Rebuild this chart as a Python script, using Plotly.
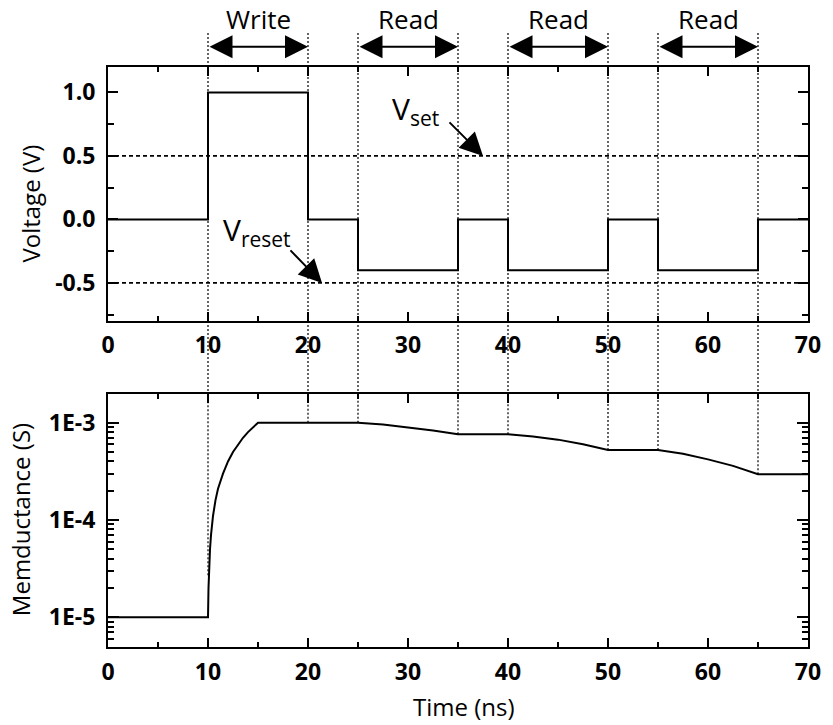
import plotly.graph_objects as go

# Applied voltage: each value holds until the next time point
time_ns = [0, 10, 20, 25, 35, 40, 50, 55, 65, 70]
voltage_v = [0.0, 1.0, 0.0, -0.4, 0.0, -0.4, 0.0, -0.4, 0.0, 0.0]

# Switching thresholds
v_set = 0.5
v_reset = -0.5

# Memductance response to the pulse train
g_time_ns = [0, 10, 10.05, 10.1, 10.2, 10.3, 10.5, 10.75, 11, 11.5, 12, 12.5,
             13, 13.5, 14, 14.5, 15, 20, 25, 27.5, 30, 32.5, 35, 40, 42.5, 45,
             47.5, 50, 55, 57.5, 60, 62.5, 65, 70]
g_siemens = [1e-5, 1e-5, 2e-5, 3e-5, 5e-5, 7e-5, 1.1e-4, 1.6e-4, 2.1e-4, 3.0e-4,
             4.0e-4, 5.0e-4, 6.0e-4, 7.0e-4, 8.0e-4, 9.0e-4, 1.0e-3, 1.0e-3,
             1.0e-3, 9.6e-4, 9.0e-4, 8.3e-4, 7.6e-4, 7.6e-4, 7.2e-4, 6.7e-4,
             6.0e-4, 5.25e-4, 5.25e-4, 4.8e-4, 4.2e-4, 3.6e-4, 2.95e-4, 2.95e-4]

# Pulse phases
phase_labels = ["Write", "Read", "Read", "Read"]
phase_start = [10, 25, 40, 55]
phase_end = [20, 35, 50, 65]

# Phase boundaries and the memductance where each boundary marker stops
edge_time = sorted(phase_start + phase_end)
edge_g = [2.7e-5, 1e-3, 1e-3, 7.6e-4, 7.6e-4, 5.25e-4, 5.25e-4, 2.95e-4]

# Tick labels
x_tickvals = [0, 10, 20, 30, 40, 50, 60, 70]
v_tickvals = [-0.5, 0.0, 0.5, 1.0]
v_ticktext = ["-0.5", "0.0", "0.5", "1.0"]
g_tickvals = [1e-5, 1e-4, 1e-3]
g_ticktext = ["1E-5", "1E-4", "1E-3"]

FONT = "Open Sans"
BLACK = "#000000"

TOP_DOMAIN = [0.5621, 1.0]
BOTTOM_DOMAIN = [0.0, 0.4362]

fig = go.Figure()

# Voltage waveform
fig.add_trace(go.Scatter(
    x=time_ns, y=voltage_v, mode="lines", line_shape="hv",
    line=dict(color=BLACK, width=2), xaxis="x", yaxis="y", showlegend=False,
))

# Threshold lines
for level in (v_set, v_reset):
    fig.add_trace(go.Scatter(
        x=[time_ns[0], time_ns[-1]], y=[level, level], mode="lines",
        line=dict(color=BLACK, width=1.8, dash="4px,3px"),
        xaxis="x", yaxis="y", showlegend=False,
    ))

# Boundary markers inside the memductance panel
bx, by = [], []
for t, g in zip(edge_time, edge_g):
    bx += [t, t, None]
    by += [g, 1e-2, None]
fig.add_trace(go.Scatter(
    x=bx, y=by, mode="lines",
    line=dict(color=BLACK, width=1.2, dash="2px,2px"),
    xaxis="x2", yaxis="y2", showlegend=False,
))

# Memductance curve
fig.add_trace(go.Scatter(
    x=g_time_ns, y=g_siemens, mode="lines",
    line=dict(color=BLACK, width=2), xaxis="x2", yaxis="y2", showlegend=False,
))

# Boundary markers from the phase arrows down to the memductance panel
shapes = []
for t in edge_time:
    shapes.append(dict(
        type="line", xref="x", yref="paper", x0=t, x1=t,
        y0=1.0586, y1=BOTTOM_DOMAIN[1], layer="above",
        line=dict(color=BLACK, width=1.2, dash="2px,2px"),
    ))

ARROW = dict(arrowhead=2, arrowsize=2.3, arrowwidth=2, arrowcolor=BLACK, standoff=0)

annotations = []
# Phase arrows and labels
for lab, s, e in zip(phase_labels, phase_start, phase_end):
    annotations.append(dict(
        x=e, y=1.035, xref="x", yref="paper", ax=s, ay=0, axref="x", ayref="pixel",
        text="", showarrow=True, startarrowhead=2, arrowside="end+start",
        startarrowsize=2.3, startstandoff=0, **ARROW,
    ))
    annotations.append(dict(
        x=(s + e) / 2, y=1.082, xref="x", yref="paper", text=lab, showarrow=False,
        xanchor="center", yanchor="middle", font=dict(family=FONT, size=26, color=BLACK),
    ))

# Threshold labels with pointers
annotations += [
    dict(x=28.2, y=0.86, xref="x", yref="y", text="V<sub>set</sub>", showarrow=False,
         xanchor="left", yanchor="middle", font=dict(family=FONT, size=30, color=BLACK)),
    dict(x=37.5, y=v_set, xref="x", yref="y", ax=-35, ay=-35, text="", showarrow=True,
         **ARROW),
    dict(x=11.3, y=-0.09, xref="x", yref="y", text="V<sub>reset</sub>", showarrow=False,
         xanchor="left", yanchor="middle", font=dict(family=FONT, size=30, color=BLACK)),
    dict(x=21.4, y=v_reset, xref="x", yref="y", ax=-33, ay=-34, text="", showarrow=True,
         **ARROW),
]

# Axis titles
annotations += [
    dict(x=-0.111, y=0.765, xref="paper", yref="paper", text="Voltage (V)", textangle=-90,
         showarrow=False, xanchor="center", yanchor="middle",
         font=dict(family=FONT, size=24, color=BLACK)),
    dict(x=-0.124, y=0.219, xref="paper", yref="paper", text="Memductance (S)", textangle=-90,
         showarrow=False, xanchor="center", yanchor="middle",
         font=dict(family=FONT, size=24, color=BLACK)),
    dict(x=0.5085, y=-0.103, xref="paper", yref="paper", text="Time (ns)",
         showarrow=False, xanchor="center", yanchor="middle",
         font=dict(family=FONT, size=24, color=BLACK)),
]

tick_font = dict(family=FONT, size=23, color=BLACK, weight="bold")
axis_common = dict(
    showline=True, linewidth=2, linecolor=BLACK, mirror="ticks",
    ticks="inside", tickwidth=2, tickcolor=BLACK, showgrid=False, zeroline=False,
    tickfont=tick_font,
)

fig.update_layout(
    width=833, height=725,
    margin=dict(l=108, r=21, t=67, b=78),
    paper_bgcolor="white", plot_bgcolor="white",
    font=dict(family=FONT, color=BLACK),
    shapes=shapes, annotations=annotations,
    xaxis=dict(domain=[0, 1], anchor="y", range=[0, 70], tickmode="array",
               tickvals=x_tickvals, ticklen=9, ticklabelstandoff=2,
               minor=dict(dtick=5, ticks="inside", ticklen=5, tickwidth=2, tickcolor=BLACK),
               **axis_common),
    yaxis=dict(domain=TOP_DOMAIN, anchor="x", range=[-0.8, 1.2], tickmode="array",
               tickvals=v_tickvals, ticktext=v_ticktext, ticklen=10, ticklabelstandoff=6,
               minor=dict(dtick=0.25, ticks="inside", ticklen=6, tickwidth=2, tickcolor=BLACK),
               **axis_common),
    xaxis2=dict(domain=[0, 1], anchor="y2", range=[0, 70], tickmode="array",
                tickvals=x_tickvals, ticklen=9, ticklabelstandoff=3,
                minor=dict(dtick=5, ticks="inside", ticklen=5, tickwidth=2, tickcolor=BLACK),
                **axis_common),
    yaxis2=dict(domain=BOTTOM_DOMAIN, anchor="x2", type="log", range=[-5.305, -2.705],
                tickmode="array", tickvals=g_tickvals, ticktext=g_ticktext,
                ticklen=11, ticklabelstandoff=6,
                minor=dict(dtick="D1", ticks="inside", ticklen=6, tickwidth=1.5, tickcolor=BLACK),
                **axis_common),
)

fig.write_html("out.html")
